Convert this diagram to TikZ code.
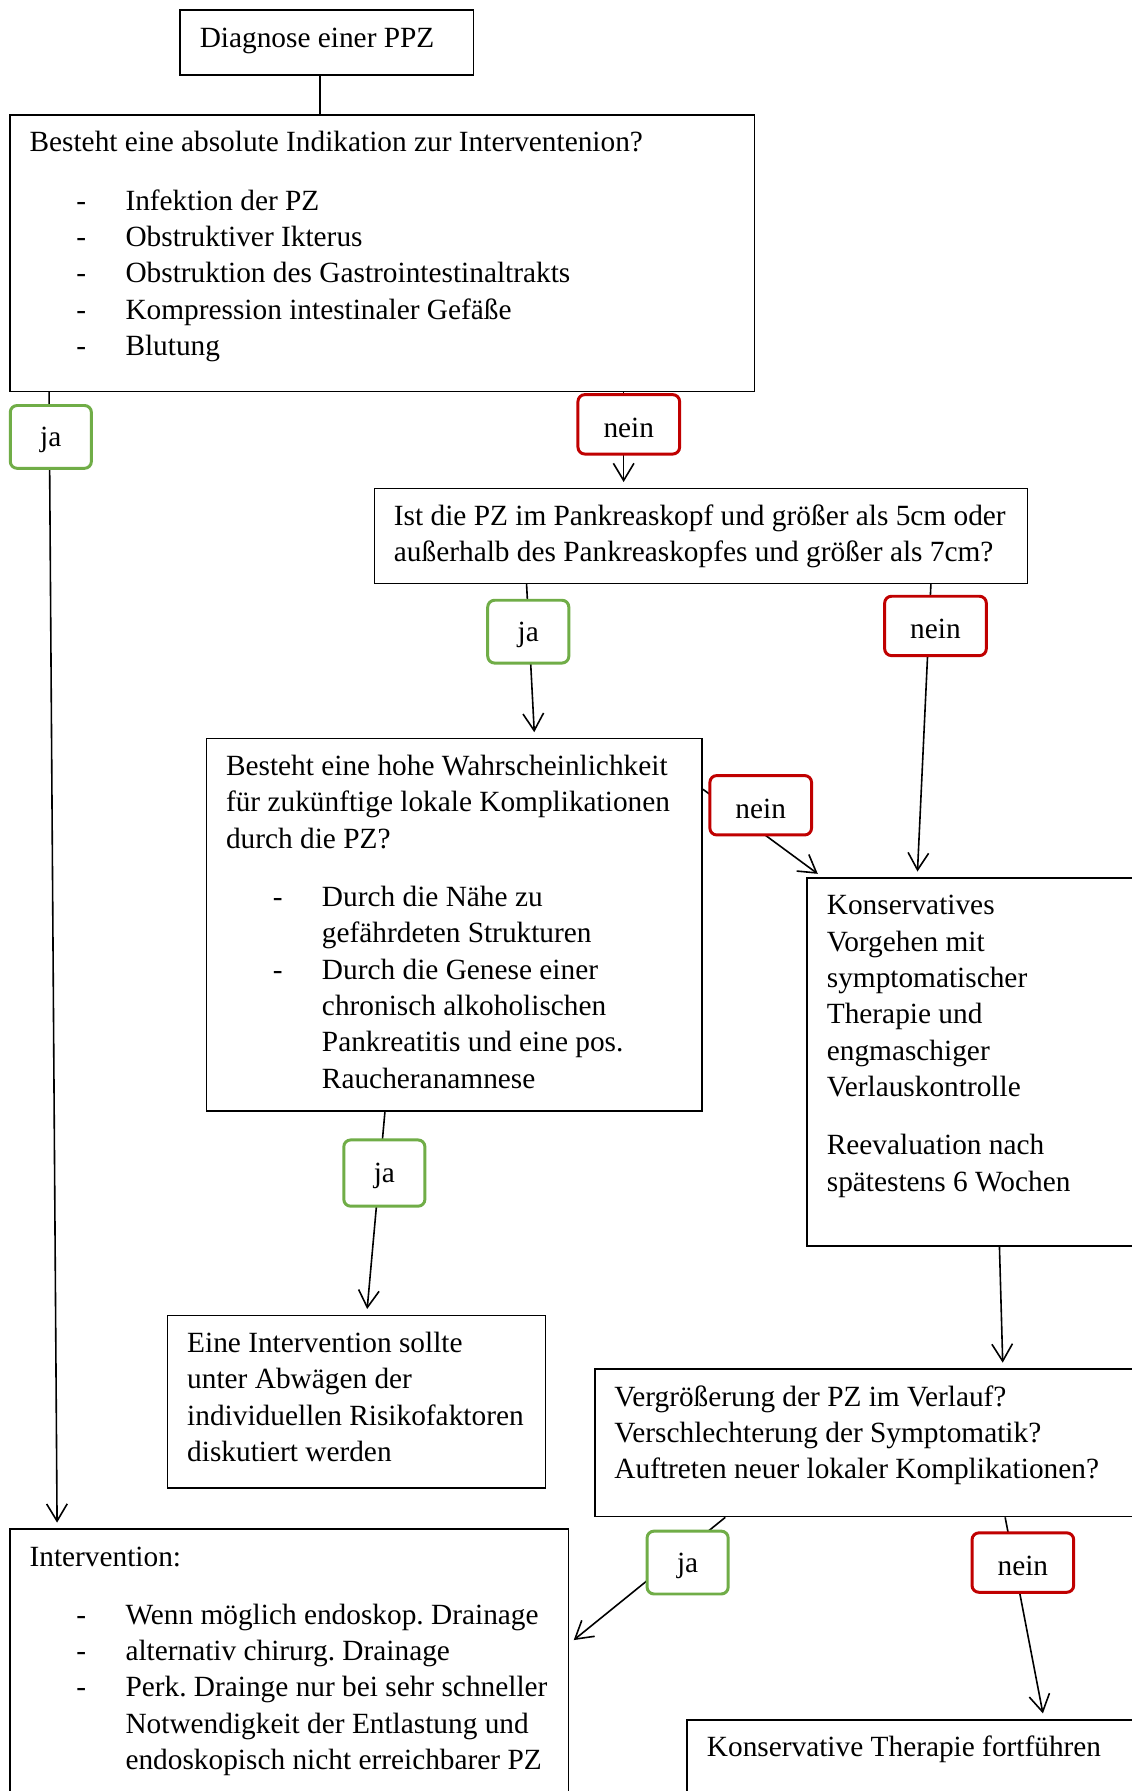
\documentclass[tikz,border=0pt]{standalone}
\usepackage{fontspec}
\setmainfont{Liberation Serif}
\usetikzlibrary{arrows.meta,calc}
\definecolor{jagreen}{HTML}{70AD47}
\definecolor{neinred}{HTML}{C00000}
\frenchspacing
\newcommand{\fs}{\fontsize{12.84pt}{15.9pt}\selectfont\frenchspacing}
\newcommand{\bul}[1]{\hspace*{20.5pt}\makebox[21.5pt][l]{-}#1}
\newcommand{\cont}[1]{\hspace*{42pt}#1}
\newcommand{\gap}{\\[9.6pt]}
\newcommand{\lw}[1]{\raisebox{-1.4pt}[\height][\depth]{#1}}
\tikzset{
 box/.style={draw, line width=0.7pt, inner sep=0pt, anchor=north west},
 txt/.style={inner sep=0pt, anchor=base west, font=\fs},
 lab/.style={draw, fill=white, line width=1.3pt, rounded corners=3pt, inner sep=0pt, font=\fs},
 jabox/.style={lab, draw=jagreen, minimum width=35.5pt, minimum height=27.5pt},
 neinbox/.style={lab, draw=neinred, minimum width=44.5pt, minimum height=26pt},
 arr/.style={line width=0.7pt, -{Straight Barb[length=7.5pt,width=9pt]}, shorten >=2.5pt},
 con/.style={line width=0.7pt}
}
\begin{document}
\begin{tikzpicture}[x=0.5pt,y=-0.5pt]
\useasboundingbox (0,0) rectangle (991,1568);
\fill[white] (0,0) rectangle (991,1568);
\clip (0,0) rectangle (991,1568);

% boxes
\node[box, minimum width=128.5pt, minimum height=28.5pt] (diag) at (157,8) {};
\node[box, minimum width=326pt, minimum height=121pt] (absA) at (8,100) {};
\node[box, minimum width=286pt, minimum height=41.5pt] (ist) at (327,427) {};
\node[box, minimum width=217pt, minimum height=163pt] (hohe) at (180,646) {};
\node[box, minimum width=152pt, minimum height=161pt] (kons) at (706,768) {};
\node[box, minimum width=165.5pt, minimum height=75.5pt] (eine) at (146,1151) {};
\node[box, minimum width=245pt, minimum height=64.5pt] (verg) at (520,1198) {};
\node[box, minimum width=244.5pt, minimum height=126pt] (interv) at (8,1338) {};
\node[box, minimum width=204.5pt, minimum height=42.5pt] (fort) at (601,1505) {};

% texts
\node[txt] (diagT) at ($(diag.north west)+(17.5,33.5)$) {Diagnose einer PPZ};
\node[txt] (absAT) at ($(absA.north west)+(17.5,33)$) {\begin{tabular}[t]{@{}l@{}}
Besteht eine absolute Indikation zur Interventenion?\gap
\bul{Infektion der PZ}\\
\bul{Obstruktiver Ikterus}\\
\bul{Obstruktion des Gastrointestinaltrakts}\\
\bul{Kompression intestinaler Gefäße}\\
\bul{Blutung}
\end{tabular}};
\node[txt] (istT) at ($(ist.north west)+(17.5,33)$) {\begin{tabular}[t]{@{}l@{}}
Ist die PZ im Pankreaskopf und größer als 5cm oder\\
außerhalb des Pankreaskopfes und größer als 7cm?
\end{tabular}};
\node[txt] (hoheT) at ($(hohe.north west)+(17.5,33)$) {\begin{tabular}[t]{@{}l@{}}
Besteht eine hohe Wahrscheinlichkeit\\
für zukünftige lokale Komplikationen\\
durch die PZ?\gap
\bul{Durch die Nähe zu}\\
\cont{gefährdeten Strukturen}\\
\bul{Durch die Genese einer}\\
\cont{chronisch alkoholischen}\\
\cont{Pankreatitis und eine pos.}\\
\cont{Raucheranamnese}
\end{tabular}};
\node[txt] (konsT) at ($(kons.north west)+(17.5,33)$) {\begin{tabular}[t]{@{}l@{}}
Konservatives\\
Vorgehen mit\\
symptomatischer\\
Therapie und\\
engmaschiger\\
Verlauskontrolle\gap
Reevaluation nach\\
spätestens 6 Wochen
\end{tabular}};
\node[txt] (eineT) at ($(eine.north west)+(17.5,33)$) {\begin{tabular}[t]{@{}l@{}}
Eine Intervention sollte\\
unter Abwägen der\\
individuellen Risikofaktoren\\
diskutiert werden
\end{tabular}};
\node[txt] (vergT) at ($(verg.north west)+(17.5,33)$) {\begin{tabular}[t]{@{}l@{}}
Vergrößerung der PZ im Verlauf?\\
Verschlechterung der Symptomatik?\\
Auftreten neuer lokaler Komplikationen?
\end{tabular}};
\node[txt] (intervT) at ($(interv.north west)+(17.5,33)$) {\begin{tabular}[t]{@{}l@{}}
Intervention:\gap
\bul{Wenn möglich endoskop. Drainage}\\
\bul{alternativ chirurg. Drainage}\\
\bul{Perk. Drainge nur bei sehr schneller}\\
\cont{Notwendigkeit der Entlastung und}\\
\cont{endoskopisch nicht erreichbarer PZ}
\end{tabular}};
\node[txt] (fortT) at ($(fort.north west)+(17.5,33)$) {Konservative Therapie fortführen};

% connectors
\draw[con] ($(diag.south west)+(123,0)$) -- ($(absA.north west)+(272,0)$);
\draw[arr] ($(absA.south west)+(35,0)$) -- ($(interv.north west)+(42,0)$);
\draw[arr] ($(absA.south west)+(538,0)$) -- ($(ist.north west)+(219,0)$);
\draw[arr] ($(ist.south west)+(134,0)$) -- ($(hohe.north west)+(288,0)$);
\draw[arr] ($(ist.south west)+(488,0)$) -- ($(kons.north west)+(97,0)$);
\draw[arr] ($(hohe.north east)+(0,45)$) -- ($(kons.north west)+(14,0)$);
\draw[arr] ($(kons.south west)+(169,0)$) -- ($(verg.north west)+(358,0)$);
\draw[arr] ($(hohe.south west)+(157,0)$) -- ($(eine.north west)+(175,0)$);
\draw[arr] ($(verg.south west)+(115,0)$) -- ($(interv.north east)+(0,101)$);
\draw[arr] ($(verg.south west)+(360,0)$) -- ($(fort.north west)+(313,0)$);

% labels
\node[jabox] (ja1) at (44.5,382.5) {\lw{ja}};
\node[neinbox] (nein1) at (550.5,371.5) {\lw{nein}};
\node[jabox] (ja2) at (462.5,553) {\lw{ja}};
\node[neinbox] (nein2) at (819,548) {\lw{nein}};
\node[neinbox] (nein3) at (666,705) {\lw{nein}};
\node[jabox, minimum height=29pt] (ja3) at (336.5,1027) {\lw{ja}};
\node[jabox] (ja4) at (602,1368) {\lw{ja}};
\node[neinbox] (nein4) at (895.5,1368) {\lw{nein}};
\end{tikzpicture}
\end{document}
